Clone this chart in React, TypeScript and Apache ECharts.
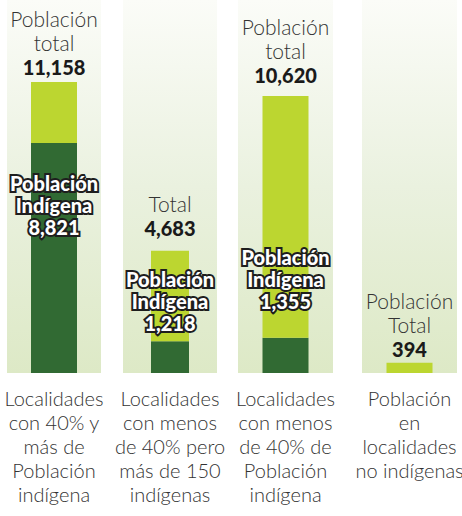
import React, { useEffect, useRef } from "react";
import * as echarts from "echarts";

// Data
const categories = [
  "Localidades\ncon 40% y\nmás de\nPoblación\nindígena",
  "Localidades\ncon menos\nde 40% pero\nmás de 150\nindígenas",
  "Localidades\ncon menos\nde 40% de\nPoblación\nindígena",
  "Población\nen\nlocalidades\nno indígenas",
];
const totalPopulation = [11158, 4683, 10620, 394];
const indigenousPopulation = [8821, 1218, 1355, 0];
const totalCaptions = ["Población\ntotal", "Total", "Población\ntotal", "Población\nTotal"];
const indigenousCaption = "Población\nIndígena";

// Layout / styles (kept apart from data)
const panels = [
  { left: 7, width: 94, barWidth: 46 },
  { left: 123, width: 94, barWidth: 38 },
  { left: 238, width: 95, barWidth: 46 },
  { left: 362, width: 95, barWidth: 46 },
];
const topLabelDistance = [3, 11, 9, 2];
const indigenousLabelOffset = [95, -7, -26, 0];

const fmt = (v: number) => v.toLocaleString("en-US");

export default function App() {
  const ref = useRef<HTMLDivElement>(null);
  useEffect(() => {
    if (!ref.current) return;
    const chart = echarts.init(ref.current, null, { renderer: "svg" });
    const font = "Lato, 'Noto Sans', sans-serif";
    const grids = panels.map((p) => ({
      left: p.left,
      width: p.width,
      top: 0,
      height: 373,
      show: true,
      borderWidth: 0,
      containLabel: false,
      outerBoundsMode: "none",
      backgroundColor: new echarts.graphic.LinearGradient(0, 0, 0, 1, [
        { offset: 0, color: "#fbfcf8" },
        { offset: 0.5, color: "#eaf1df" },
        { offset: 1, color: "#dde9c6" },
      ]),
    }));
    const xAxes = categories.map((c, i) => ({
      type: "category",
      gridIndex: i,
      data: [c],
      axisLine: { show: false },
      axisTick: { show: false },
      axisLabel: {
        interval: 0,
        margin: 13,
        fontSize: 20,
        lineHeight: 24,
        color: "#333",
        fontFamily: font,
        fontWeight: 300,
      },
    }));
    const yAxes = categories.map((_, i) => ({
      type: "value",
      gridIndex: i,
      min: 0,
      max: 14300,
      show: false,
      splitLine: { show: false },
    }));
    const series: any[] = [];
    categories.forEach((_, i) => {
      const indig = indigenousPopulation[i];
      series.push({
        type: "bar",
        xAxisIndex: i,
        yAxisIndex: i,
        stack: "s" + i,
        barWidth: panels[i].barWidth,
        itemStyle: { color: "#316a33" },
        data: [indig],
        label: {
          show: indig > 0,
          position: "top",
          distance: 0,
          offset: [0, indigenousLabelOffset[i]],
          formatter: () => indigenousCaption + "\n" + fmt(indig),
          fontFamily: font,
          fontWeight: 900,
          fontSize: 20,
          lineHeight: 22,
          color: "#ffffff",
          textBorderColor: "#1e1e1e",
          textBorderWidth: 4,
          align: "center",
        },
      });
      series.push({
        type: "bar",
        xAxisIndex: i,
        yAxisIndex: i,
        stack: "s" + i,
        barWidth: panels[i].barWidth,
        itemStyle: { color: "#bcd630" },
        data: [totalPopulation[i] - indig],
        label: {
          show: true,
          position: "top",
          distance: topLabelDistance[i],
          formatter: () =>
            totalCaptions[i]
              .split("\n")
              .map((l) => "{c|" + l + "}")
              .join("\n") +
            "\n{n|" +
            fmt(totalPopulation[i]) +
            "}",
          align: "center",
          rich: {
            c: {
              fontFamily: font,
              fontWeight: 300,
              fontSize: 21,
              lineHeight: 24,
              color: "#333",
            },
            n: {
              fontFamily: font,
              fontWeight: 900,
              fontSize: 20,
              lineHeight: 24,
              color: "#1a1a1a",
            },
          },
        },
      });
    });
    chart.setOption({
      animation: false,
      backgroundColor: "#ffffff",
      grid: grids,
      xAxis: xAxes,
      yAxis: yAxes,
      series,
    });
    return () => chart.dispose();
  }, []);
  return (
    <div
      ref={ref}
      style={{ position: "fixed", left: 0, top: 0, width: 462, height: 516 }}
    />
  );
}
